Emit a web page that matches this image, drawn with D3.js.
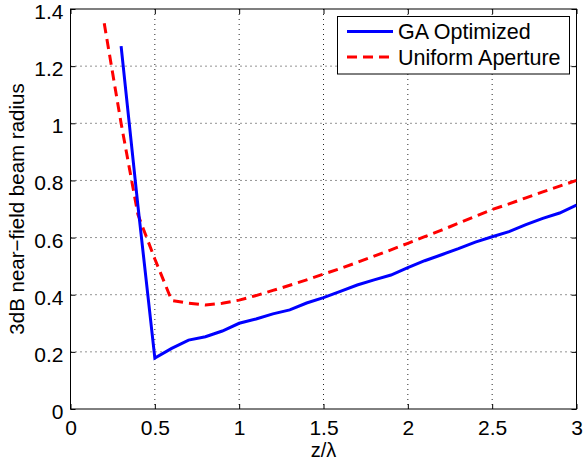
<!DOCTYPE html>
<html>
<head>
<meta charset="utf-8">
<script src="https://cdn.jsdelivr.net/npm/d3@7/dist/d3.min.js"></script>
<style>
  html, body { margin: 0; padding: 0; background: #fff; }
  svg { display: block; font-family: "Liberation Sans", Arial, Helvetica, sans-serif; }
</style>
</head>
<body>
<svg id="chart" width="583" height="463"></svg>
<script>
// Beam radius versus normalized distance z/lambda
const gaZ = [0.3, 0.4, 0.5, 0.6, 0.7, 0.8, 0.9, 1.0, 1.1, 1.2, 1.3, 1.4, 1.5, 1.6, 1.7, 1.8, 1.9, 2.0,
             2.1, 2.2, 2.3, 2.4, 2.5, 2.6, 2.7, 2.8, 2.9, 3.0];
const gaRadius = [1.27, 0.71, 0.178, 0.212, 0.241, 0.253, 0.273, 0.300, 0.315, 0.333, 0.347, 0.371, 0.390, 0.412,
                  0.434, 0.452, 0.469, 0.495, 0.519, 0.540, 0.561, 0.584, 0.603, 0.621, 0.645, 0.667, 0.686, 0.714];
const uniformZ = [0.2, 0.3, 0.4, 0.5, 0.6, 0.7, 0.8, 0.9, 1.0, 1.1, 1.2, 1.3, 1.4, 1.5, 1.6, 1.7, 1.8, 1.9, 2.0,
                  2.1, 2.2, 2.3, 2.4, 2.5, 2.6, 2.7, 2.8, 2.9, 3.0];
const uniformRadius = [1.35, 1.0, 0.68, 0.525, 0.38, 0.37, 0.364, 0.37, 0.381, 0.397, 0.415, 0.433, 0.452, 0.472,
                       0.492, 0.513, 0.535, 0.557, 0.580, 0.603, 0.626, 0.65, 0.674, 0.698, 0.718, 0.739, 0.76, 0.78, 0.80];
const xTicks = [0, 0.5, 1, 1.5, 2, 2.5, 3];
const xTickLabels = ["0", "0.5", "1", "1.5", "2", "2.5", "3"];
const yTicks = [0, 0.2, 0.4, 0.6, 0.8, 1, 1.2, 1.4];
const yTickLabels = ["0", "0.2", "0.4", "0.6", "0.8", "1", "1.2", "1.4"];
const seriesNames = ["GA Optimized", "Uniform Aperture"];

const svg = d3.select("#chart");
const plotL = 70.5, plotR = 576.5, plotT = 9, plotB = 409;

const x = d3.scaleLinear().domain([0, 3]).range([plotL, plotR]);
const y = d3.scaleLinear().domain([0, 1.4]).range([plotB, plotT]);

// dotted grid
const grid = svg.append("g").attr("stroke", "#262626").attr("stroke-width", 1)
  .attr("stroke-dasharray", "1,4").attr("fill", "none");
xTicks.slice(1, -1).forEach(t => {
  grid.append("line").attr("x1", x(t)).attr("x2", x(t)).attr("y1", plotT).attr("y2", plotB);
});
yTicks.slice(1, -1).forEach(t => {
  grid.append("line").attr("x1", plotL).attr("x2", plotR).attr("y1", y(t)).attr("y2", y(t));
});

// axes with inward ticks on all four sides
const tickLen = 5;
const axisBottom = d3.axisBottom(x).tickValues(xTicks).tickSize(-tickLen).tickPadding(11)
  .tickFormat((d, i) => xTickLabels[i]);
const axisTop = d3.axisTop(x).tickValues(xTicks).tickSize(-tickLen).tickFormat("");
const axisLeft = d3.axisLeft(y).tickValues(yTicks).tickSize(-tickLen).tickPadding(7)
  .tickFormat((d, i) => yTickLabels[i]);
const axisRight = d3.axisRight(y).tickValues(yTicks).tickSize(-tickLen).tickFormat("");

function styleAxis(g) {
  g.select(".domain").remove();
  g.selectAll(".tick line").attr("stroke", "#000").attr("stroke-width", 1);
  g.selectAll(".tick text").attr("fill", "#000").style("font-size", "21px")
    .style("font-family", "'Liberation Sans', Arial, sans-serif");
}
svg.append("g").attr("transform", `translate(0,${plotB})`).call(axisBottom).call(styleAxis);
svg.append("g").attr("transform", `translate(0,${plotT})`).call(axisTop).call(styleAxis);
svg.append("g").attr("transform", `translate(${plotL},0)`).call(axisLeft).call(styleAxis)
  .selectAll(".tick text").attr("dy", "0.45em");
svg.append("g").attr("transform", `translate(${plotR},0)`).call(axisRight).call(styleAxis);

// plot box
svg.append("rect").attr("x", plotL).attr("y", plotT).attr("width", plotR - plotL).attr("height", plotB - plotT)
  .attr("fill", "none").attr("stroke", "#000").attr("stroke-width", 1);

// series
const line = d3.line().x(d => x(d[0])).y(d => y(d[1]));
svg.append("clipPath").attr("id", "plotClip").append("rect")
  .attr("x", plotL).attr("y", plotT).attr("width", plotR - plotL).attr("height", plotB - plotT);
const plot = svg.append("g").attr("clip-path", "url(#plotClip)");
plot.append("path").datum(d3.zip(uniformZ, uniformRadius)).attr("d", line)
  .attr("fill", "none").attr("stroke", "#ff0000").attr("stroke-width", 3).attr("stroke-dasharray", "10,6");
plot.append("path").datum(d3.zip(gaZ, gaRadius)).attr("d", line)
  .attr("fill", "none").attr("stroke", "#0000ff").attr("stroke-width", 3);

// axis titles
svg.append("text").attr("x", (plotL + plotR) / 2).attr("y", 457).attr("text-anchor", "middle")
  .style("font-size", "20px").text("z/λ");
svg.append("text").attr("transform", `translate(24,${(plotT + plotB) / 2}) rotate(-90)`)
  .attr("text-anchor", "middle").style("font-size", "20.5px").text("3dB near\u2212field beam radius");

// legend
const lg = svg.append("g");
lg.append("rect").attr("x", 337.5).attr("y", 16.5).attr("width", 232).attr("height", 57.5)
  .attr("fill", "#fff").attr("stroke", "#000").attr("stroke-width", 1);
const rows = [
  { name: seriesNames[0], color: "#0000ff", dash: null, cy: 31.5 },
  { name: seriesNames[1], color: "#ff0000", dash: "10,6", cy: 57 }
];
rows.forEach(r => {
  lg.append("line").attr("x1", 347).attr("x2", 393).attr("y1", r.cy).attr("y2", r.cy)
    .attr("stroke", r.color).attr("stroke-width", 3).attr("stroke-dasharray", r.dash);
  lg.append("text").attr("x", 398).attr("y", r.cy + 7.5).style("font-size", "21.5px").text(r.name);
});
</script>
</body>
</html>
